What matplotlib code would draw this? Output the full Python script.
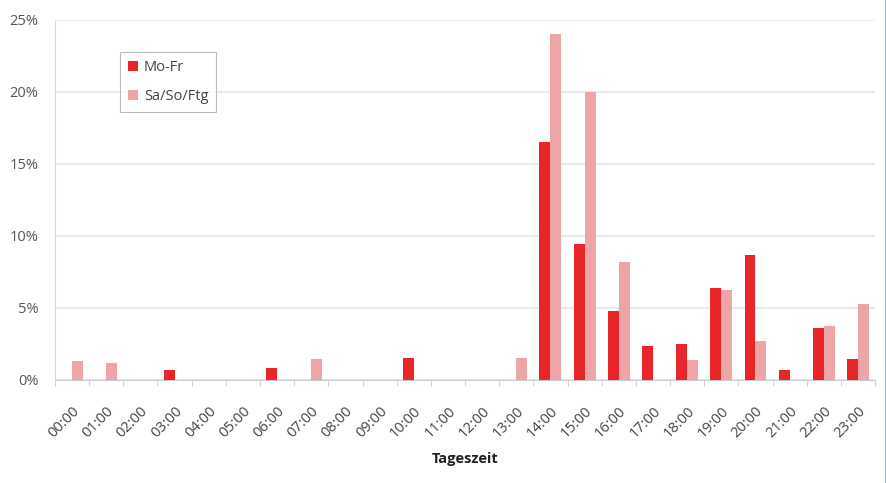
import matplotlib.pyplot as plt
from matplotlib.lines import Line2D
import numpy as np

# Anteil der Fahrten je Stunde (in %)
stunden = [f"{h:02d}:00" for h in range(24)]
mo_fr = [0, 0, 0, 0.7, 0, 0, 0.85, 0, 0, 0, 1.5, 0,
         0, 0, 16.5, 9.45, 4.8, 2.35, 2.5, 6.4, 8.7, 0.7, 3.6, 1.45]
sa_so_ftg = [1.3, 1.2, 0, 0, 0, 0, 0, 1.45, 0, 0, 0, 0,
             0, 1.5, 24.0, 20.0, 8.2, 0, 1.4, 6.25, 2.7, 0, 3.75, 5.3]

plt.rcParams['font.family'] = ['Open Sans', 'DejaVu Sans']

fig = plt.figure(figsize=(8.87, 4.83), dpi=100)
ax = fig.add_axes([0.062, 0.2133, 0.9245, 0.7453])

x = np.arange(len(stunden))
breite = 0.32
ax.bar(x - breite / 2, mo_fr, breite, color='#E8262A', label='Mo-Fr', zorder=3)
ax.bar(x + breite / 2, sa_so_ftg, breite, color='#EDA5A8', label='Sa/So/Ftg', zorder=3)

ax.set_xlim(-0.5, len(stunden) - 0.5)
ax.set_ylim(0, 25)
ax.set_yticks([0, 5, 10, 15, 20, 25])
ax.set_yticklabels([f"{v}%" for v in [0, 5, 10, 15, 20, 25]], color='#555555', fontsize=10.5)
ax.yaxis.grid(True, color='#E3E6E8', linewidth=1.2, zorder=0)
ax.tick_params(axis='y', length=0, pad=12)

# Stundenlabels schräg, Teilstriche zwischen den Kategorien
ax.set_xticks(x)
ax.set_xticklabels(stunden, rotation=45, ha='right', rotation_mode='anchor',
                   color='#444444', fontsize=10.5)
ax.set_xticks(np.arange(-0.5, len(stunden)), minor=True)
ax.tick_params(axis='x', which='major', length=0, pad=17)
ax.tick_params(axis='x', which='minor', length=4, color='#C8CCCF')
ax.set_xlabel('Tageszeit', fontweight='bold', fontsize=10.5, color='#222222', labelpad=8)

for s in ['top', 'right']:
    ax.spines[s].set_visible(False)
ax.spines['left'].set_color('#D8DCDF')
ax.spines['bottom'].set_color('#C8CCCF')

leg = ax.legend(loc='upper left', bbox_to_anchor=(0.079, 0.911), frameon=True,
                fancybox=False, handlelength=0.7, handleheight=0.7,
                handletextpad=0.4, borderpad=0.55, labelspacing=0.95,
                borderaxespad=0, fontsize=10.5)
leg.get_frame().set_edgecolor('#AAAAAA')
leg.get_frame().set_linewidth(0.8)
for t in leg.get_texts():
    t.set_color('#444444')

# blauer Rand rechts
fig.add_artist(Line2D([0.9985, 0.9985], [0, 1], transform=fig.transFigure,
                      color='#7FB2DD', linewidth=2))

fig.savefig('out.png', dpi=100)
